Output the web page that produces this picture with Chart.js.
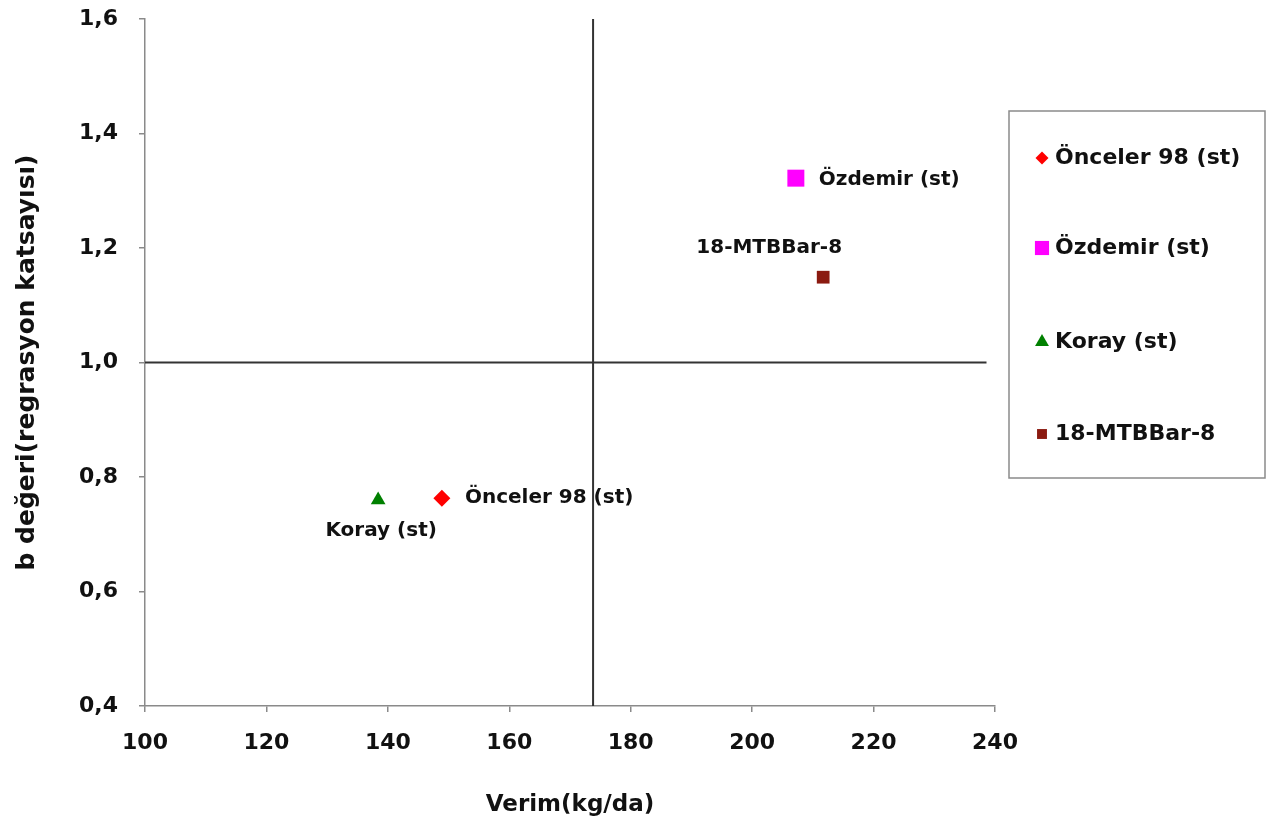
<!DOCTYPE html>
<html>
<head>
<meta charset="utf-8">
<script src="https://cdn.jsdelivr.net/npm/chart.js@4.4.1/dist/chart.umd.min.js"></script>
<style>
    html, body { margin: 0; padding: 0; background: #fff; }
    #wrap { position: relative; width: 1280px; height: 823px; }
</style>
</head>
<body>
<div id="wrap"><canvas id="adapt_chart" width="1280" height="823"></canvas></div>
<script>
//Genotype names, yield (x) and regression coefficient (y)
const genotypes = ['Önceler 98 (st)', 'Özdemir (st)', 'Koray (st)', '18-MTBBar-8'];
const verim = [148.9, 207.2, 138.4, 211.7];
const bDegeri = [0.763, 1.322, 0.760, 1.149];

//Reference lines: mean yield and b = 1
const meanVerim = 173.8;
const bOne = 1.0;
const lineEnd = 238.6;

//Axis ranges and ticks
const xMin = 100, xMax = 240, xStep = 20;
const yMin = 0.4, yMax = 1.6, yStep = 0.2;

//Marker styles for each genotype (same order as genotypes)
const markerColors = ['#ff0000', '#ff00ff', '#008000', '#8b1a10'];
const markerShapes = ['rectRot', 'rect', 'triangle', 'rect'];
const markerSizes = [8.5, 12, 8.5, 9];
const legendSizes = [6.5, 10, 8, 7];
//Label offsets from the point (px) and alignment
const labelOffsets = [[23, 0, 'left'], [23, 2, 'left'], [3, 31, 'center'], [-54, -29, 'center']];

const fontFam = '"DejaVu Sans", "Liberation Sans", Arial, sans-serif';
const axisGray = '#8a8a8a';

const datasets = genotypes.map((name, i) => ({
    label: name,
    data: [{x: verim[i], y: bDegeri[i]}],
    pointStyle: markerShapes[i],
    pointRadius: markerSizes[i],
    pointHoverRadius: markerSizes[i],
    backgroundColor: markerColors[i],
    borderColor: markerColors[i],
    borderWidth: 0,
    showLine: false
}));
//Vertical and horizontal dividing lines
datasets.push({
    label: '_v',
    data: [{x: meanVerim, y: yMin}, {x: meanVerim, y: yMax}],
    showLine: true, borderColor: '#333', borderWidth: 2, pointRadius: 0
});
datasets.push({
    label: '_h',
    data: [{x: xMin, y: bOne}, {x: lineEnd, y: bOne}],
    showLine: true, borderColor: '#333', borderWidth: 2, pointRadius: 0
});

const pointLabels = {
    id: 'pointLabels',
    afterDatasetsDraw(chart) {
        const ctx = chart.ctx;
        ctx.save();
        ctx.font = 'bold 20px ' + fontFam;
        ctx.fillStyle = '#111';
        ctx.textBaseline = 'middle';
        genotypes.forEach((name, i) => {
            const el = chart.getDatasetMeta(i).data[0];
            ctx.textAlign = labelOffsets[i][2];
            ctx.fillText(name, el.x + labelOffsets[i][0], el.y + labelOffsets[i][1]);
        });
        ctx.restore();
    }
};

const boxLegend = {
    id: 'boxLegend',
    afterDraw(chart) {
        const ctx = chart.ctx;
        ctx.save();
        ctx.strokeStyle = axisGray;
        ctx.lineWidth = 1.5;
        ctx.strokeRect(1009, 111, 256, 367);
        ctx.font = 'bold 22px ' + fontFam;
        ctx.textBaseline = 'middle';
        ctx.textAlign = 'left';
        const rows = [158, 248, 342, 434];
        genotypes.forEach((name, i) => {
            ctx.fillStyle = markerColors[i];
            ctx.strokeStyle = markerColors[i];
            Chart.helpers.drawPoint(ctx, {pointStyle: markerShapes[i], radius: legendSizes[i], borderWidth: 0}, 1042, rows[i]);
            ctx.fillStyle = '#111';
            ctx.fillText(name, 1055, rows[i]);
        });
        ctx.restore();
    }
};

new Chart('adapt_chart', {
    type: 'scatter',
    data: {datasets: datasets},
    options: {
        responsive: false,
        animation: false,
        layout: {padding: {top: 19, right: 285, left: 0, bottom: 0}},
        plugins: {legend: {display: false}, tooltip: {enabled: false}},
        scales: {
            x: {
                min: xMin, max: xMax,
                ticks: {stepSize: xStep, color: '#111', font: {family: fontFam, size: 22, weight: 'bold'}, padding: 18},
                grid: {drawOnChartArea: false, drawTicks: true, tickLength: 6, color: axisGray, lineWidth: 1.5},
                border: {display: true, color: axisGray, width: 1.5},
                title: {display: true, text: 'Verim(kg/da)', color: '#111', font: {family: fontFam, size: 23, weight: 'bold'}, padding: {top: 22}},
                afterFit: (scale) => { scale.height = 117; scale.paddingLeft = 0; scale.paddingRight = 0; }
            },
            y: {
                min: yMin, max: yMax,
                ticks: {stepSize: yStep, color: '#111', font: {family: fontFam, size: 22, weight: 'bold'}, padding: 21,
                    callback: (v) => v.toFixed(1).replace('.', ',')},
                grid: {drawOnChartArea: false, drawTicks: true, tickLength: 6, color: axisGray, lineWidth: 1.5},
                border: {display: true, color: axisGray, width: 1.5},
                title: {display: true, text: 'b değeri(regrasyon katsayısı)', color: '#111', font: {family: fontFam, size: 25, weight: 'bold'}, padding: {top: 12, bottom: 0}},
                afterFit: (scale) => { scale.width = 145; scale.paddingTop = 0; scale.paddingBottom = 0; }
            }
        }
    },
    plugins: [pointLabels, boxLegend]
});
</script>
</body>
</html>
